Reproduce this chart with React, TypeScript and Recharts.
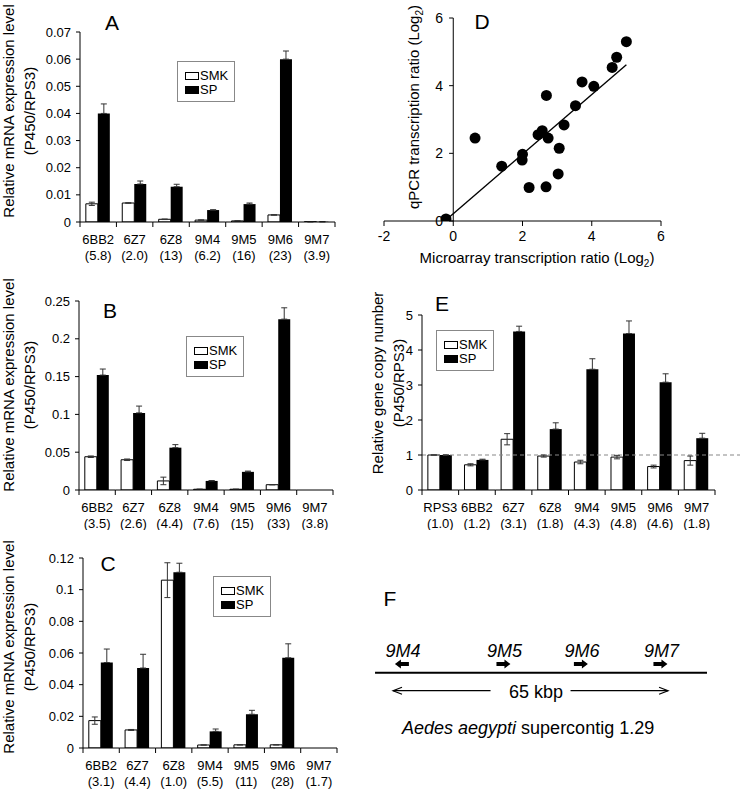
import React from "react";
import {
  BarChart, Bar, XAxis, YAxis, ErrorBar, Legend, ReferenceLine,
  ScatterChart, Scatter,
} from "recharts";

const FONT = "'Liberation Sans', Arial, Helvetica, sans-serif";

// ---- Panel A : relative expression, larvae
const genesA = ["6BB2", "6Z7", "6Z8", "9M4", "9M5", "9M6", "9M7"];
const ratiosA = ["(5.8)", "(2.0)", "(13)", "(6.2)", "(16)", "(23)", "(3.9)"];
const smkA = [0.0067, 0.007, 0.001, 0.0007, 0.0004, 0.0026, 0.0001];
const smkErrA = [0.0006, 0.0001, 0.0001, 0.0001, 0.0001, 0.0001, 0];
const spA = [0.04, 0.014, 0.013, 0.0044, 0.0066, 0.06, 0.0001];
const spErrA = [0.0035, 0.0011, 0.0009, 0.0001, 0.0004, 0.003, 0];
const ticksA = [0, 0.01, 0.02, 0.03, 0.04, 0.05, 0.06, 0.07];

// ---- Panel B
const genesB = ["6BB2", "6Z7", "6Z8", "9M4", "9M5", "9M6", "9M7"];
const ratiosB = ["(3.5)", "(2.6)", "(4.4)", "(7.6)", "(15)", "(33)", "(3.8)"];
const smkB = [0.044, 0.04, 0.012, 0.001, 0.001, 0.007, 0];
const smkErrB = [0.001, 0.001, 0.005, 0, 0, 0, 0];
const spB = [0.152, 0.102, 0.056, 0.012, 0.024, 0.226, 0];
const spErrB = [0.008, 0.009, 0.004, 0.0005, 0.001, 0.015, 0];
const ticksB = [0, 0.05, 0.1, 0.15, 0.2, 0.25];

// ---- Panel C
const genesC = ["6BB2", "6Z7", "6Z8", "9M4", "9M5", "9M6", "9M7"];
const ratiosC = ["(3.1)", "(4.4)", "(1.0)", "(5.5)", "(11)", "(28)", "(1.7)"];
const smkC = [0.0173, 0.0114, 0.106, 0.0019, 0.002, 0.002, 0];
const smkErrC = [0.0023, 0.0003, 0.011, 0, 0, 0, 0];
const spC = [0.054, 0.0505, 0.111, 0.0105, 0.0213, 0.057, 0];
const spErrC = [0.0085, 0.0087, 0.0057, 0.0015, 0.0025, 0.0088, 0];
const ticksC = [0, 0.02, 0.04, 0.06, 0.08, 0.1, 0.12];

// ---- Panel D : microarray vs qPCR (log2)
const microD = [-0.21, 0.63, 1.4, 2.0, 1.99, 2.19, 2.45, 2.57, 2.74, 2.69, 2.68, 3.06, 3.03, 3.2, 3.53, 3.72, 4.06, 4.59, 4.72, 5.0];
const qpcrD = [0.06, 2.45, 1.62, 1.97, 1.8, 0.99, 2.55, 2.67, 2.45, 3.71, 1.01, 2.15, 1.39, 2.84, 3.41, 4.11, 3.98, 4.54, 4.84, 5.3];
const fitX = [-0.21, 5.0];
const fitY = [0.03, 4.62];
const xTicksD = [-2, 0, 2, 4, 6];
const yTicksD = [0, 2, 4, 6];

// ---- Panel E : gene copy number
const genesE = ["RPS3", "6BB2", "6Z7", "6Z8", "9M4", "9M5", "9M6", "9M7"];
const ratiosE = ["(1.0)", "(1.2)", "(3.1)", "(1.8)", "(4.3)", "(4.8)", "(4.6)", "(1.8)"];
const smkE = [1.0, 0.72, 1.45, 0.97, 0.8, 0.94, 0.67, 0.84];
const smkErrE = [0, 0.03, 0.16, 0.03, 0.05, 0.05, 0.04, 0.13];
const spE = [1.0, 0.86, 4.53, 1.74, 3.45, 4.47, 3.08, 1.48];
const spErrE = [0, 0.02, 0.15, 0.18, 0.3, 0.36, 0.24, 0.14];
const ticksE = [0, 1, 2, 3, 4, 5];

// ---- Panel F : gene map on supercontig 1.29 (kbp)
const mapGenes = ["9M4", "9M5", "9M6", "9M7"];
const mapPos = [2.1, 26.1, 44.4, 63.2];
const mapDir = [-1, 1, 1, 1];
const contigRange = [-4.25, 74.2];
const spanRange = [0, 65];

const buildRows = (genes: string[], smk: number[], smkErr: number[], sp: number[], spErr: number[]) =>
  genes.map((g, i) => ({
    gene: g,
    smk: smk[i],
    smkErr: [smkErr[i], smkErr[i]],
    sp: sp[i],
    spErr: [0, spErr[i]],
  }));

const makeTick = (ratios: string[], count: number) => (props: any) => {
  const { x, y, payload, index } = props;
  const half = payload && payload.offset ? payload.offset : 18;
  return (
    <g>
      <line x1={x - half} x2={x + half} y1={y} y2={y} stroke="#000" />
      <line x1={x - half} x2={x - half} y1={y} y2={y + 5} stroke="#000" />
      {index === count - 1 && <line x1={x + half} x2={x + half} y1={y} y2={y + 5} stroke="#000" />}
      <text x={x} y={y + 22} textAnchor="middle" fontSize={13} fill="#000" fontFamily={FONT}>{payload.value}</text>
      <text x={x} y={y + 38} textAnchor="middle" fontSize={13} fill="#000" fontFamily={FONT}>{ratios[index]}</text>
    </g>
  );
};

const BoxLegend = () => (
  <div style={{
    width: 58, height: 41, boxSizing: "border-box", border: "1px solid #888", background: "#fff",
    padding: "7px 0 0 7px", fontFamily: FONT, fontSize: 13, lineHeight: "14px", color: "#000",
  }}>
    {[{ n: "SMK", f: "#fff" }, { n: "SP", f: "#000" }].map((it) => (
      <div key={it.n} style={{ display: "flex", alignItems: "center", height: 14 }}>
        <span style={{ display: "inline-block", width: 14, height: 8, boxSizing: "border-box", border: "1px solid #000", background: it.f, marginRight: 1 }} />
        <span>{it.n}</span>
      </div>
    ))}
  </div>
);

type BarPanelProps = {
  left: number; top: number; width: number; height: number;
  margin: { top: number; right: number; left: number; bottom: number };
  yWidth: number; padRight?: number;
  rows: any[]; ratios: string[]; domain: [number, number]; ticks: number[];
  legendPos: { left: number; top: number };
  dashedOne?: boolean;
};

const BarPanel = (p: BarPanelProps) => (
  <div style={{ position: "absolute", left: p.left, top: p.top }}>
    <BarChart width={p.width} height={p.height} data={p.rows} margin={p.margin} barCategoryGap="16%" barGap={0}>
      <XAxis dataKey="gene" interval={0} axisLine={false} tickLine={false} tickSize={0} tickMargin={0} height={40}
        padding={{ left: 0, right: p.padRight || 0 }} tick={makeTick(p.ratios, p.rows.length)} />
      <YAxis domain={p.domain} ticks={p.ticks} width={p.yWidth} allowDataOverflow stroke="#000" tickSize={4} tickMargin={5}
        tick={{ fontSize: 13, fill: "#000", fontFamily: FONT }} interval={0} />
      {p.dashedOne && <ReferenceLine y={1} stroke="#888" strokeDasharray="4 3" strokeWidth={1.2} />}
      <Legend layout="vertical" align="center" verticalAlign="middle" content={<BoxLegend />}
        wrapperStyle={{ left: p.legendPos.left, top: p.legendPos.top, width: 58, height: 41 }} />
      <Bar dataKey="smk" name="SMK" fill="#fff" stroke="#000" strokeWidth={1} isAnimationActive={false}>
        <ErrorBar dataKey="smkErr" width={3} stroke="#333" strokeWidth={1} direction="y" isAnimationActive={false} />
      </Bar>
      <Bar dataKey="sp" name="SP" fill="#000" isAnimationActive={false}>
        <ErrorBar dataKey="spErr" width={3} stroke="#333" strokeWidth={1} direction="y" isAnimationActive={false} />
      </Bar>
    </BarChart>
  </div>
);

const ScatterD = () => {
  const pts = microD.map((x, i) => ({ x, y: qpcrD[i] }));
  return (
    <div style={{ position: "absolute", left: 370, top: 0 }}>
      <ScatterChart width={370} height={265} margin={{ top: 18, right: 79, left: 14, bottom: 14 }}>
        <XAxis type="number" dataKey="x" domain={[-2, 6]} ticks={xTicksD} allowDataOverflow height={30} stroke="#000"
          tickSize={5} tickMargin={5} tick={{ fontSize: 14, fill: "#000", fontFamily: FONT }} interval={0} />
        <YAxis type="number" dataKey="y" domain={[0, 6]} hide allowDataOverflow />
        <ReferenceLine segment={[{ x: 0, y: 0 }, { x: 0, y: 6 }]} stroke="#000" />
        {yTicksD.map((v) => (
          <ReferenceLine key={v} segment={[{ x: -0.12, y: v }, { x: 0, y: v }]} stroke="#000"
            label={{ value: String(v), position: "left", offset: 6, fontSize: 14, fill: "#000", fontFamily: FONT }} />
        ))}
        <ReferenceLine segment={[{ x: fitX[0], y: fitY[0] }, { x: fitX[1], y: fitY[1] }]} stroke="#000" strokeWidth={1.4} />
        <Scatter data={pts} fill="#000" isAnimationActive={false}
          shape={(s: any) => <circle cx={s.cx} cy={s.cy} r={5.5} fill="#000" />} />
      </ScatterChart>
    </div>
  );
};

const arrowShape = (s: any) => {
  const { x1, y1, x2, y2 } = s;
  const mid = (x1 + x2) / 2;
  const gap = 40;
  return (
    <g stroke="#000" strokeWidth={1.2} fill="none">
      <line x1={x1} y1={y1} x2={mid - gap} y2={y2} />
      <line x1={mid + gap} y1={y1} x2={x2} y2={y2} />
      <polyline points={`${x1 + 9},${y1 - 3.5} ${x1},${y1} ${x1 + 9},${y1 + 3.5}`} />
      <polyline points={`${x2 - 9},${y2 - 3.5} ${x2},${y2} ${x2 - 9},${y2 + 3.5}`} />
    </g>
  );
};

const geneShape = (s: any) => {
  const { cx, cy, payload } = s;
  const d = payload.dir;
  const tip = cx + d * 7;
  const back = cx - d * 7;
  const neck = cx + d * 1;
  return (
    <g>
      <polygon points={`${back},${cy - 2} ${neck},${cy - 2} ${neck},${cy - 4.5} ${tip},${cy} ${neck},${cy + 4.5} ${neck},${cy + 2} ${back},${cy + 2}`} fill="#000" />
      <text x={cx + 1} y={cy - 7} textAnchor="middle" fontSize={18} fontStyle="italic" fill="#000" fontFamily={FONT}>{payload.name}</text>
    </g>
  );
};

const MapF = () => {
  const genes = mapGenes.map((n, i) => ({ x: mapPos[i], y: 86, name: n, dir: mapDir[i] }));
  return (
    <div style={{ position: "absolute", left: 370, top: 620 }}>
      <ScatterChart width={370} height={130} margin={{ top: 0, right: 0, left: 0, bottom: 0 }}>
        <XAxis type="number" dataKey="x" domain={[-5.44, 82.0]} hide allowDataOverflow />
        <YAxis type="number" dataKey="y" domain={[0, 130]} hide allowDataOverflow />
        <ReferenceLine segment={[{ x: contigRange[0], y: 77.3 }, { x: contigRange[1], y: 77.3 }]} stroke="#000" strokeWidth={2} />
        <ReferenceLine segment={[{ x: spanRange[0], y: 59.3 }, { x: spanRange[1], y: 59.3 }]} shape={arrowShape} />
        <Scatter data={genes} isAnimationActive={false} shape={geneShape} />
      </ScatterChart>
    </div>
  );
};

const Rot = ({ x, y, children }: { x: number; y: number; children: React.ReactNode }) => (
  <text transform={`translate(${x},${y}) rotate(-90)`} textAnchor="middle" fontSize={15} fill="#000">{children}</text>
);

const Sub2 = () => <tspan fontSize={10} dy={4}>2</tspan>;

export default function App() {
  const rowsA = buildRows(genesA, smkA, smkErrA, spA, spErrA);
  const rowsB = buildRows(genesB, smkB, smkErrB, spB, spErrB);
  const rowsC = buildRows(genesC, smkC, smkErrC, spC, spErrC);
  const rowsE = buildRows(genesE, smkE, smkErrE, spE, spErrE);
  return (
    <div style={{ position: "absolute", left: 0, top: 0, width: 740, height: 791, background: "#fff", fontFamily: FONT, overflow: "hidden" }}>
      <BarPanel left={0} top={0} width={345} height={265} margin={{ top: 32, right: 10, left: 0, bottom: 3 }} yWidth={80}
        rows={rowsA} ratios={ratiosA} domain={[0, 0.07]} ticks={ticksA} legendPos={{ left: 177, top: 61 }} />
      <BarPanel left={0} top={265} width={345} height={265} margin={{ top: 36, right: 12, left: 0, bottom: 0 }} yWidth={79}
        rows={rowsB} ratios={ratiosB} domain={[0, 0.25]} ticks={ticksB} legendPos={{ left: 186, top: 71 }} />
      <BarPanel left={0} top={525} width={345} height={266} margin={{ top: 33, right: 8, left: 0, bottom: 3 }} yWidth={83}
        rows={rowsC} ratios={ratiosC} domain={[0, 0.12]} ticks={ticksC} legendPos={{ left: 213, top: 51 }} />
      <ScatterD />
      <BarPanel left={370} top={265} width={370} height={265} margin={{ top: 50, right: 0, left: 0, bottom: 0 }} yWidth={52} padRight={25}
        rows={rowsE} ratios={ratiosE} domain={[0, 5]} ticks={ticksE} legendPos={{ left: 66, top: 65 }} dashedOne />
      <MapF />
      <svg width={740} height={791} style={{ position: "absolute", left: 0, top: 0, pointerEvents: "none" }} fontFamily={FONT}>
        <Rot x={14} y={111}>Relative mRNA expression level</Rot>
        <Rot x={35} y={111}>(P450/RPS3)</Rot>
        <Rot x={14} y={385}>Relative mRNA expression level</Rot>
        <Rot x={35} y={385}>(P450/RPS3)</Rot>
        <Rot x={14} y={647}>Relative mRNA expression level</Rot>
        <Rot x={35} y={647}>(P450/RPS3)</Rot>
        <Rot x={383} y={383}>Relative gene copy number</Rot>
        <Rot x={404} y={383}>(P450/RPS3)</Rot>
        <Rot x={419} y={107}>qPCR transcription ratio (Log<Sub2 /><tspan dy={-4}>)</tspan></Rot>
        <text x={537} y={263} textAnchor="middle" fontSize={15} fill="#000">
          Microarray transcription ratio (Log<Sub2 /><tspan dy={-4}>)</tspan>
        </text>
        <text x={112} y={30} textAnchor="middle" fontSize={21} fill="#000">A</text>
        <text x={110} y={318} textAnchor="middle" fontSize={21} fill="#000">B</text>
        <text x={108} y={571} textAnchor="middle" fontSize={21} fill="#000">C</text>
        <text x={482} y={29} textAnchor="middle" fontSize={21} fill="#000">D</text>
        <text x={442} y={311} textAnchor="middle" fontSize={21} fill="#000">E</text>
        <text x={390} y={606} textAnchor="middle" fontSize={21} fill="#000">F</text>
        <text x={536} y={698} textAnchor="middle" fontSize={18} fill="#000">65 kbp</text>
        <text x={402} y={734} fontSize={18} fill="#000"><tspan fontStyle="italic">Aedes aegypti</tspan> supercontig 1.29</text>
      </svg>
    </div>
  );
}
